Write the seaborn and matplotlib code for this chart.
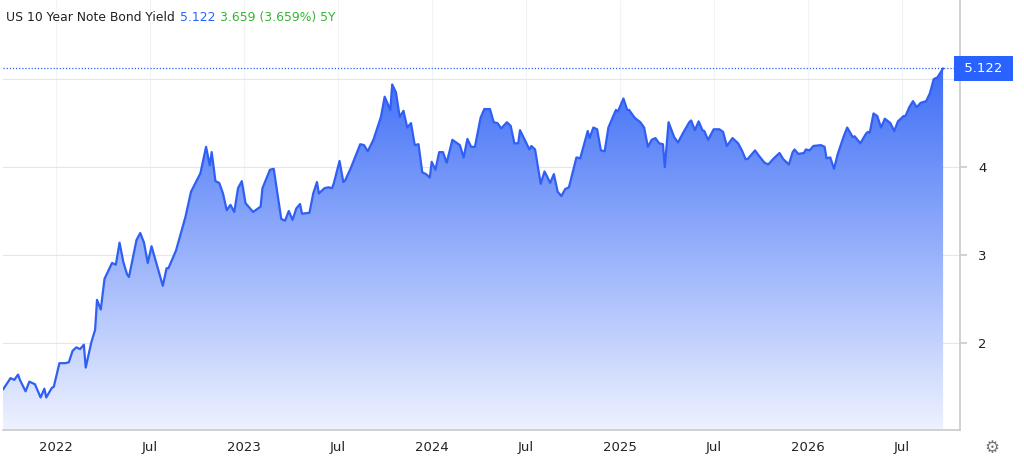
import numpy as np
import pandas as pd
import matplotlib.pyplot as plt
import seaborn as sns
from matplotlib.path import Path
from matplotlib.patches import PathPatch

# decimal year, yield (%)
years = [2021.72, 2021.76, 2021.78, 2021.80, 2021.81, 2021.84, 2021.86, 2021.89, 2021.92, 2021.94,
         2021.95, 2021.98, 2021.99, 2022.02, 2022.05, 2022.07, 2022.09, 2022.11, 2022.13, 2022.15,
         2022.16, 2022.19, 2022.21, 2022.22, 2022.24, 2022.26, 2022.30, 2022.32, 2022.34, 2022.36,
         2022.38, 2022.39, 2022.43, 2022.45, 2022.47, 2022.49, 2022.51, 2022.57, 2022.59, 2022.60,
         2022.63, 2022.64, 2022.69, 2022.72, 2022.77, 2022.80, 2022.82, 2022.83, 2022.85, 2022.87,
         2022.89, 2022.91, 2022.93, 2022.95, 2022.97, 2022.99, 2023.01, 2023.05, 2023.09, 2023.10,
         2023.14, 2023.16, 2023.20, 2023.22, 2023.24, 2023.26, 2023.28, 2023.30, 2023.31, 2023.35,
         2023.37, 2023.39, 2023.40, 2023.43, 2023.45, 2023.47, 2023.48, 2023.51, 2023.53, 2023.54,
         2023.57, 2023.62, 2023.64, 2023.66, 2023.69, 2023.73, 2023.75, 2023.78, 2023.79, 2023.81,
         2023.83, 2023.85, 2023.87, 2023.89, 2023.91, 2023.93, 2023.95, 2023.97, 2023.99, 2024.00,
         2024.02, 2024.04, 2024.06, 2024.08, 2024.11, 2024.15, 2024.17, 2024.19, 2024.21, 2024.23,
         2024.26, 2024.28, 2024.31, 2024.33, 2024.35, 2024.37, 2024.40, 2024.42, 2024.44, 2024.46,
         2024.47, 2024.52, 2024.53, 2024.55, 2024.58, 2024.60, 2024.61, 2024.63, 2024.65, 2024.67,
         2024.69, 2024.71, 2024.73, 2024.77, 2024.79, 2024.83, 2024.84, 2024.86, 2024.88, 2024.90,
         2024.92, 2024.94, 2024.98, 2024.99, 2025.02, 2025.04, 2025.05, 2025.08, 2025.11, 2025.13,
         2025.15, 2025.17, 2025.19, 2025.21, 2025.23, 2025.24, 2025.26, 2025.29, 2025.31, 2025.34,
         2025.37, 2025.38, 2025.40, 2025.42, 2025.44, 2025.45, 2025.47, 2025.50, 2025.53, 2025.55,
         2025.57, 2025.60, 2025.63, 2025.65, 2025.67, 2025.68, 2025.72, 2025.74, 2025.77, 2025.79,
         2025.82, 2025.85, 2025.87, 2025.90, 2025.92, 2025.93, 2025.95, 2025.98, 2025.99, 2026.01,
         2026.03, 2026.07, 2026.09, 2026.10, 2026.12, 2026.14, 2026.16, 2026.19, 2026.21, 2026.24,
         2026.25, 2026.28, 2026.31, 2026.32, 2026.33, 2026.35, 2026.37, 2026.39, 2026.41, 2026.44,
         2026.46, 2026.48, 2026.51, 2026.52, 2026.54, 2026.56, 2026.58, 2026.60, 2026.63, 2026.65,
         2026.67, 2026.69, 2026.72]
yields = [1.47, 1.60, 1.58, 1.64, 1.58, 1.45, 1.56, 1.53, 1.38, 1.48,
          1.38, 1.49, 1.50, 1.77, 1.77, 1.78, 1.91, 1.95, 1.93, 1.98,
          1.72, 2.01, 2.15, 2.49, 2.38, 2.73, 2.91, 2.89, 3.14, 2.92,
          2.78, 2.75, 3.17, 3.25, 3.14, 2.91, 3.10, 2.65, 2.85, 2.85,
          3.00, 3.05, 3.43, 3.72, 3.93, 4.23, 4.02, 4.17, 3.84, 3.82,
          3.70, 3.51, 3.57, 3.49, 3.76, 3.84, 3.59, 3.49, 3.55, 3.76,
          3.97, 3.98, 3.41, 3.39, 3.50, 3.40, 3.53, 3.58, 3.47, 3.48,
          3.70, 3.83, 3.70, 3.76, 3.77, 3.76, 3.82, 4.07, 3.83, 3.85,
          3.99, 4.26, 4.25, 4.18, 4.31, 4.57, 4.80, 4.65, 4.94, 4.85,
          4.57, 4.64, 4.45, 4.50, 4.25, 4.26, 3.94, 3.92, 3.88, 4.06,
          3.97, 4.17, 4.17, 4.05, 4.31, 4.25, 4.11, 4.32, 4.23, 4.23,
          4.56, 4.66, 4.66, 4.51, 4.50, 4.44, 4.51, 4.47, 4.27, 4.27,
          4.42, 4.20, 4.24, 4.20, 3.81, 3.95, 3.91, 3.82, 3.92, 3.72,
          3.67, 3.75, 3.77, 4.11, 4.10, 4.41, 4.33, 4.45, 4.43, 4.19,
          4.18, 4.45, 4.65, 4.63, 4.78, 4.65, 4.65, 4.56, 4.51, 4.45,
          4.23, 4.31, 4.33, 4.27, 4.26, 4.00, 4.51, 4.34, 4.28, 4.40,
          4.51, 4.53, 4.42, 4.52, 4.42, 4.41, 4.31, 4.43, 4.43, 4.40,
          4.24, 4.33, 4.27, 4.19, 4.09, 4.09, 4.19, 4.13, 4.05, 4.03,
          4.10, 4.16, 4.09, 4.03, 4.17, 4.20, 4.15, 4.16, 4.20, 4.19,
          4.24, 4.25, 4.23, 4.10, 4.11, 3.98, 4.15, 4.34, 4.45, 4.34,
          4.35, 4.27, 4.38, 4.40, 4.39, 4.61, 4.58, 4.45, 4.55, 4.50,
          4.41, 4.52, 4.58, 4.58, 4.68, 4.75, 4.68, 4.73, 4.75, 4.84,
          5.00, 5.02, 5.122]
tick_pos = [2022.0, 2022.5, 2023.0, 2023.5, 2024.0, 2024.5, 2025.0, 2025.5, 2026.0, 2026.5]
tick_labels = ["2022", "Jul", "2023", "Jul", "2024", "Jul", "2025", "Jul", "2026", "Jul"]
y_ticks = [2, 3, 4]
last = 5.122

df = pd.DataFrame({"year": years, "yield": yields})

sns.set_theme(style="white")
plt.rcParams["font.family"] = ["DejaVu Sans"]

fig = plt.figure(figsize=(10.24, 4.62), dpi=100)
ax = fig.add_axes([3 / 1024, 32 / 462, 957 / 1024, 430 / 462])
x0, x1 = 2021.72, 2026.81
y0, y1 = 1.01, 5.90

# gradient fill under the line
grad = np.linspace(0, 1, 256).reshape(-1, 1)
cmap = sns.blend_palette(["#eef2ff", "#3d6df6"], as_cmap=True)
img = ax.imshow(grad, cmap=cmap, aspect="auto", origin="lower",
                extent=[x0, x1, y0, 5.15], zorder=1, vmin=0, vmax=1)
ax.set_xlim(x0, x1)
ax.set_ylim(y0, y1)
verts = list(zip(df["year"], df["yield"])) + [(years[-1], y0), (years[0], y0)]
clip = PathPatch(Path(verts), transform=ax.transData, facecolor="none", edgecolor="none")
ax.add_patch(clip)
img.set_clip_path(clip)

sns.lineplot(data=df, x="year", y="yield", ax=ax, color="#2f5ff5", linewidth=1.6, zorder=3)

for t in tick_pos:
    ax.axvline(t, color="#f0f3f8", linewidth=0.8, zorder=0)
for t in y_ticks + [5]:
    ax.axhline(t, color="#e6e6e6", linewidth=0.8, zorder=0)
ax.axhline(last, color="#2f5ff5", linewidth=0.9, linestyle=(0, (1, 1.5)), zorder=4)

ax.set_xticks(tick_pos)
ax.set_xticklabels(tick_labels, fontsize=9.5, color="#222222")
ax.set_yticks(y_ticks)
ax.yaxis.tick_right()
ax.set_yticklabels([str(t) for t in y_ticks], fontsize=9.5, color="#222222")
ax.tick_params(axis="y", length=5, color="#cccccc", pad=8)
ax.tick_params(axis="x", length=0, pad=8)
ax.set_xlabel("")
ax.set_ylabel("")
for s in ["top", "left"]:
    ax.spines[s].set_visible(False)
ax.spines["bottom"].set_color("#cccccc")
ax.spines["right"].set_color("#cccccc")

# last value badge
ax.text(1.0, last, " 5.122 ", transform=ax.get_yaxis_transform(), ha="left", va="center",
        fontsize=9.5, color="white",
        bbox=dict(boxstyle="square,pad=0.45", facecolor="#2962ff", edgecolor="none"))

# title
fig.text(0.006, 0.963, "US 10 Year Note Bond Yield", fontsize=8.9, color="#222222", va="center")
fig.text(0.176, 0.963, "5.122", fontsize=8.9, color="#2962ff", va="center")
fig.text(0.215, 0.963, "3.659 (3.659%) 5Y", fontsize=8.9, color="#33b533", va="center")

fig.text(0.969, 0.03, "\u2699", fontsize=12, color="#777777", ha="center", va="center")

fig.savefig("out.png", dpi=100)
